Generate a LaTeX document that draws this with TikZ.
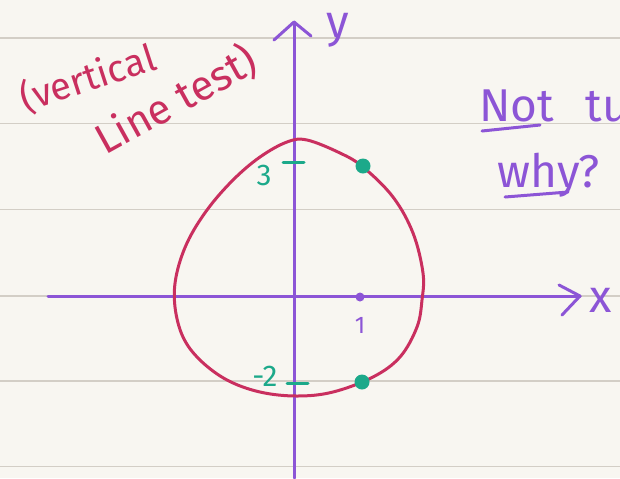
\documentclass[tikz,border=0pt]{standalone}
\usepackage{fontspec}
\setmainfont{Fira Sans}
\definecolor{paper}{HTML}{F8F6F1}
\definecolor{rulec}{HTML}{D3CEC6}
\definecolor{inkred}{HTML}{C92F5F}
\definecolor{inkpurple}{HTML}{8C55D6}
\definecolor{inkgreen}{HTML}{1CA98A}
\tikzset{
  rule/.style={rulec, line width=0.9pt},
  axisline/.style={inkpurple, line width=1.5pt, line cap=round, line join=round},
  curveline/.style={inkred, line width=1.5pt, line cap=round, line join=round},
  tickline/.style={inkgreen, line width=1.5pt, line cap=round},
  redtxt/.style={inkred, inner sep=0pt},
  purtxt/.style={inkpurple, inner sep=0pt, font=\fontsize{23}{26}\selectfont},
  grntxt/.style={inkgreen, inner sep=0pt, font=\fontsize{15}{18}\selectfont},
}
\begin{document}
\begin{tikzpicture}[x=0.5pt,y=-0.5pt]
\fill[paper] (0,0) rectangle (620,478);
\useasboundingbox (0,0) rectangle (620,478);
\clip (0,0) rectangle (620,478);
\foreach \yy in {38,123.5,209.5,296,381,466.5}
  \draw[rule] (0,\yy) -- (620,\yy);
% axes
\coordinate (xs) at (48,296);
\coordinate (xe) at (580,296);
\coordinate (ys) at (294,478);
\coordinate (ye) at (294,22);
\draw[axisline] (xs) -- (xe);
\draw[axisline] (559,285) -- (xe) -- (562,315);
\draw[axisline] (ys) -- (ye);
\draw[axisline] (274,40) -- (ye) -- (311,36);
\node[purtxt] (xl) at (601,300) {x};
\node[purtxt] (yl) at (338,30) {y};
% curve
\draw[curveline] plot[smooth cycle, tension=0.6] coordinates {
 (307,140) (340,153) (363,167) (393,197) (413,233) (423,273) (422,300)
 (417,327) (400,357) (373,377) (333,392) (297,396) (260,392) (227,380)
 (200,360) (183,337) (175,307) (176,277) (187,243) (207,210) (233,180)
 (260,157) (287,142)};
% ticks and labels
\draw[tickline] (283,162) -- (304,162);
\draw[tickline] (287,383) -- (308,383);
\node[grntxt] (l3) at (264,175) {3};
\node[grntxt] (lm2) at (265,376) {-2};
\fill[inkpurple] (360,297) circle (4.5);
\node[inkpurple, inner sep=0pt, font=\fontsize{12}{14}\selectfont] (l1) at (360,325) {1};
\fill[inkgreen] (363,166) circle (7.5);
\fill[inkgreen] (362,382) circle (7.5);
% notes
\node[redtxt, rotate=18, font=\fontsize{19}{22}\selectfont] (t1) at (88,78) {(vertical};
\node[redtxt, rotate=29, font=\fontsize{21}{24}\selectfont] (t2) at (176,100) {Line test)};
\node[purtxt, anchor=base west] (n1) at (479,121) {Not};
\draw[axisline] (482,131) -- (540,125);
\node[purtxt, anchor=base west] (n2) at (585,121) {tu};
\node[purtxt, anchor=base west] (n3) at (497,187) {why?};
\draw[axisline] (505,197) -- (568,192);
\end{tikzpicture}
\end{document}
